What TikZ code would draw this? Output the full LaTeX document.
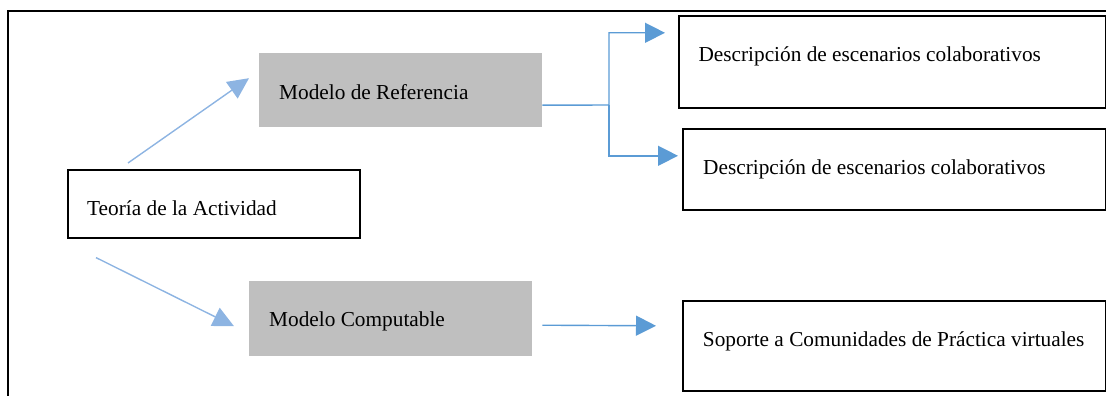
\documentclass[tikz,border=0pt]{standalone}
\usepackage{fontspec}
\setmainfont{Liberation Serif}
\usetikzlibrary{arrows.meta,calc}
\definecolor{lightarrow}{HTML}{8DB4E2}
\definecolor{darkarrow}{HTML}{5B9BD5}
\definecolor{graybox}{HTML}{BFBFBF}
\begin{document}
\begin{tikzpicture}[x=1pt,y=-1pt,
  wbox/.style={draw=black,line width=1.6pt,inner sep=0pt,anchor=north west},
  gbox/.style={fill=graybox,draw=none,inner sep=0pt,anchor=north west},
  lbl/.style={anchor=base west,inner sep=0pt,font=\fontsize{21.3}{25}\selectfont},
  larrow/.style={draw=lightarrow,line width=1.4pt,-{Triangle[length=21pt,width=20pt]}},
  darrow/.style={draw=darkarrow,line width=1.4pt,-{Triangle[length=20pt,width=20pt]}}]
\useasboundingbox (0,0) rectangle (1106,396);
% frame
\draw[line width=2pt] (7.5,396) -- (7.5,11) -- (1106,11);
% boxes
\node[wbox,minimum width=292pt,minimum height=68pt] (teo) at (67,169) {};
\node[gbox,minimum width=283pt,minimum height=74pt] (ref) at (259,53) {};
\node[gbox,minimum width=283pt,minimum height=75pt] (comp) at (249,281) {};
\node[wbox,minimum width=427pt,minimum height=92pt] (d1) at (678,15) {};
\node[wbox,minimum width=423pt,minimum height=81pt] (d2) at (682,128) {};
\node[wbox,minimum width=423pt,minimum height=90pt] (sop) at (682,300) {};
% labels
\node[lbl] (teoT) at (87,215) {Teoría de la Actividad};
\node[lbl] (refT) at (279,99.3) {Modelo de Referencia};
\node[lbl] (compT) at (269,326.7) {Modelo Computable};
\node[lbl] (d1T) at (698.3,61.7) {Descripción de escenarios colaborativos};
\node[lbl] (d2T) at (703,174) {Descripción de escenarios colaborativos};
\node[lbl] (sopT) at (702.7,346.7) {Soporte a Comunidades de Práctica virtuales};
% arrows
\draw[larrow] ($(teo.north west)+(61,-6)$) -- ($(ref.west)+(-10,-12)$);
\draw[larrow] ($(teo.south west)+(29,19)$) -- ($(comp.west)+(-15,7.5)$);
\coordinate (br) at (609,105);
\draw[darrow] ($(ref.east)+(0,15)$) -- (br) |- ($(d1.west)+(-13,-29)$);
\draw[darrow] (br) |- ($(d2.west)+(-4,-13.5)$);
\draw[darrow] ($(comp.east)+(10,6.5)$) -- ($(sop.west)+(-26,-20)$);
\end{tikzpicture}
\end{document}
